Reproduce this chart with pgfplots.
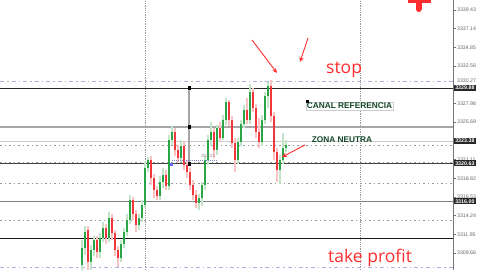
\documentclass[border=0pt]{standalone}
\usepackage{pgfplots}
\usepackage{pgfplotstable}
\pgfplotsset{compat=1.18}
\usepackage{fontspec}
\setmainfont{Liberation Sans}
\newfontfamily\opensans{Open Sans}
\usetikzlibrary{arrows.meta}

\definecolor{upG}{RGB}{40,165,70}
\definecolor{upPale}{RGB}{195,228,200}
\definecolor{dnR}{RGB}{240,55,60}
\definecolor{dnPale}{RGB}{250,195,195}
\definecolor{lvlBlue}{RGB}{175,175,230}
\definecolor{labelGreen}{RGB}{20,70,40}
\definecolor{annRed}{RGB}{255,45,45}

% bullish candles: time slot, open, high, low, close
\pgfplotstableread{
x o h l c
82 3308.19 3311.26 3307.58 3310.28
85 3310.28 3312.97 3309.42 3312.24
91 3308.56 3310.64 3307.58 3310.03
94 3310.03 3311.75 3309.30 3311.26
100 3309.79 3312.11 3309.05 3311.50
103 3311.50 3313.46 3311.01 3312.73
109 3311.50 3314.69 3311.01 3313.95
121 3309.05 3311.26 3308.56 3310.77
124 3310.77 3312.73 3310.28 3312.24
127 3312.24 3314.44 3311.75 3313.71
130 3313.71 3316.77 3313.22 3316.16
139 3313.09 3314.44 3312.48 3313.95
142 3313.95 3316.16 3313.46 3315.54
145 3315.54 3320.81 3315.18 3320.08
148 3320.08 3321.42 3319.59 3321.06
160 3316.65 3319.10 3316.16 3318.36
163 3318.36 3320.08 3317.63 3319.22
169 3317.87 3324.12 3317.38 3323.51
172 3323.51 3325.22 3322.89 3324.49
181 3321.30 3323.51 3320.81 3322.77
199 3315.79 3316.89 3314.93 3316.40
202 3316.40 3318.36 3315.42 3317.99
205 3317.99 3321.55 3317.38 3321.06
208 3321.06 3324.12 3320.44 3323.51
211 3323.51 3325.71 3322.77 3324.49
217 3322.28 3325.34 3321.67 3324.98
223 3323.75 3326.57 3323.51 3325.96
226 3325.96 3328.65 3325.34 3328.16
238 3321.06 3323.75 3320.57 3323.26
241 3323.26 3325.96 3322.77 3325.47
244 3325.47 3327.79 3324.98 3327.18
250 3325.96 3330.37 3325.47 3329.39
262 3323.26 3326.57 3322.77 3325.96
265 3325.96 3329.39 3325.47 3328.90
268 3328.90 3330.61 3327.43 3330.12
280 3319.83 3321.67 3318.12 3321.06
283 3321.06 3324.36 3320.57 3322.53
286 3322.53 3323.51 3322.04 3322.89
}\bull

% bearish candles: time slot, open, high, low, close
\pgfplotstableread{
x o h l c
88 3312.48 3312.97 3307.58 3308.56
97 3311.26 3311.75 3309.05 3309.79
106 3312.73 3313.22 3310.77 3311.50
112 3313.95 3314.44 3311.26 3312.11
115 3312.11 3312.48 3309.30 3310.03
118 3310.03 3310.52 3307.95 3309.05
133 3316.16 3316.52 3313.71 3314.44
136 3314.44 3314.93 3312.24 3313.09
151 3321.06 3321.55 3317.99 3318.85
154 3318.85 3319.34 3316.40 3317.38
157 3317.38 3317.87 3316.16 3316.65
166 3319.22 3319.83 3317.38 3317.87
175 3324.49 3324.98 3321.55 3322.28
178 3322.28 3322.89 3320.69 3321.30
184 3322.77 3323.26 3319.83 3320.44
187 3320.44 3321.06 3318.85 3319.59
190 3319.59 3320.08 3317.38 3317.99
193 3317.99 3318.61 3316.16 3316.77
196 3316.77 3317.38 3315.18 3315.79
214 3324.49 3324.98 3321.30 3322.28
220 3324.98 3325.71 3323.26 3323.75
229 3328.16 3328.41 3325.22 3325.96
232 3325.96 3326.45 3322.53 3323.14
235 3323.14 3323.75 3319.59 3321.06
247 3327.18 3328.65 3325.47 3325.96
253 3329.39 3329.88 3326.94 3327.43
256 3327.43 3327.92 3323.75 3324.49
259 3324.49 3326.20 3322.53 3323.26
271 3330.12 3330.86 3325.71 3326.45
274 3326.45 3326.94 3321.06 3322.04
277 3322.04 3322.53 3318.36 3319.83
}\bear

\begin{document}
\begin{tikzpicture}
\path[use as bounding box] (0,0) rectangle (480pt,270pt);
\begin{axis}[
  at={(0,0)}, anchor=south west,
  scale only axis, width=453pt, height=270pt,
  xmin=0, xmax=453, ymin=3307.58, ymax=3340.655,
  axis x line=none, axis y line*=right,
  y axis line style={draw=black!55, line width=0.6pt, -},
  xtick=\empty,
  ytick={3309.66,3311.95,3314.24,3316.53,3318.82,3321.11,3325.69,3327.98,3330.27,3332.56,3334.85,3337.14,3339.43},
  yticklabels={3309.66,3311.95,3314.24,3316.53,3318.82,3321.11,3325.69,3327.98,{},3332.56,3334.85,3337.14,3339.43},
  yticklabel pos=right,
  tick align=outside, major tick length=3pt,
  ytick style={draw=black!55, line width=0.5pt},
  yticklabel style={font=\fontsize{5.2}{6}\selectfont, text=black!60, inner sep=1pt},
  clip mode=individual,
]
% time separators
\addplot[black!40, line width=0.6pt, dash pattern=on 0.8pt off 1pt] coordinates {(145,3307.58)(145,3340.655)};
\addplot[black!40, line width=0.6pt, dash pattern=on 0.8pt off 1pt] coordinates {(360,3307.58)(360,3340.655)};

% price levels
\addplot[lvlBlue, line width=0.8pt, dash pattern=on 4pt off 3pt on 1.5pt off 3pt] coordinates {(0,3330.73)(453,3330.73)};
\addplot[lvlBlue, line width=0.8pt, dash pattern=on 4pt off 3pt on 1.5pt off 3pt] coordinates {(0,3307.95)(453,3307.95)};
\addplot[black!40, line width=0.6pt, dash pattern=on 2pt off 3pt on 1pt off 3pt] coordinates {(0,3322.89)(453,3322.89)};
\addplot[black!40, line width=0.6pt, dash pattern=on 2pt off 3pt on 1pt off 3pt] coordinates {(0,3320.81)(453,3320.81)};
\addplot[black!40, line width=0.6pt, dash pattern=on 2pt off 3pt on 1pt off 3pt] coordinates {(0,3318.24)(453,3318.24)};
\addplot[black!40, line width=0.6pt, dash pattern=on 2pt off 3pt on 1pt off 3pt] coordinates {(0,3313.70)(453,3313.70)};
\addplot[black!85, line width=0.9pt] coordinates {(0,3329.88)(453,3329.88)};
\addplot[black!35, line width=1.4pt] coordinates {(0,3325.10)(453,3325.10)};
\addplot[black!20, line width=1pt] coordinates {(0,3323.38)(453,3323.38)};
\addplot[black!75, line width=0.9pt] coordinates {(0,3320.63)(453,3320.63)};
\addplot[black!50, line width=1.3pt] coordinates {(0,3316.00)(453,3316.00)};
\addplot[black!90, line width=0.9pt] coordinates {(0,3311.50)(453,3311.50)};

% candle ranges (high to low)
\addplot[draw=none, mark=none, error bars/.cd, y dir=plus, y explicit, error mark=none,
  error bar style={draw=upPale, line width=2.8pt}]
  table[x=x, y=l, y error plus expr=\thisrow{h}-\thisrow{l}] {\bull};
\addplot[draw=none, mark=none, error bars/.cd, y dir=plus, y explicit, error mark=none,
  error bar style={draw=dnPale, line width=2.8pt}]
  table[x=x, y=l, y error plus expr=\thisrow{h}-\thisrow{l}] {\bear};
% candle bodies (open to close)
\addplot[draw=none, mark=none, error bars/.cd, y dir=plus, y explicit, error mark=none,
  error bar style={draw=upG, line width=1.5pt}]
  table[x=x, y=o, y error plus expr=\thisrow{c}-\thisrow{o}] {\bull};
\addplot[draw=none, mark=none, error bars/.cd, y dir=plus, y explicit, error mark=none,
  error bar style={draw=dnR, line width=1.5pt}]
  table[x=x, y=c, y error plus expr=\thisrow{o}-\thisrow{c}] {\bear};

% measuring tool
\addplot[black!35, line width=1.2pt] coordinates {(189,3329.88)(189,3320.63)};
\addplot[only marks, mark=square*, mark size=1.3pt, black] coordinates {(189,3329.88)(189,3325.10)(189,3320.63)};
\addplot[blue!40!gray!70, line width=0.6pt, dash pattern=on 1pt off 1pt] coordinates {(172,3321.06)(217,3321.06)};
\addplot[only marks, mark=square*, mark size=1.2pt, blue!60] coordinates {(171,3320.57)};
\node[font=\fontsize{4.5}{5}\selectfont, text=black!45, anchor=base east, inner sep=0] at (axis cs:215,3321.35) {303.21};

% labels
\node[draw=black!20, fill=white, font=\bfseries\fontsize{8.3}{9}\selectfont, text=labelGreen, inner xsep=0.8pt, inner ysep=1.2pt] at (axis cs:349.5,3327.67) {CANAL REFERENCIA};
\addplot[only marks, mark=square*, mark size=1pt, black] coordinates {(307,3328.28)};
\node[font=\bfseries\fontsize{8.3}{9}\selectfont, text=labelGreen, inner sep=0] at (axis cs:342,3323.57) {ZONA NEUTRA};
\node[anchor=base west, text=annRed, font=\opensans\fontsize{17.5}{20}\selectfont, inner sep=0] at (axis cs:326,3331.71) {stop};
\node[anchor=base west, text=annRed, font=\opensans\fontsize{17.5}{20}\selectfont, inner sep=0] at (axis cs:328,3308.44) {take profit};

% arrows
\draw[annRed, line width=0.9pt, -{Stealth[length=5pt,width=4.5pt]}] (axis cs:252,3335.76) -- (axis cs:277,3331.71);
\draw[annRed, line width=0.9pt, -{Stealth[length=5pt,width=4.5pt]}] (axis cs:308,3336.00) -- (axis cs:300,3333.06);
\draw[annRed, line width=0.9pt, -{Stealth[length=5pt,width=4.5pt]}] (axis cs:305,3322.89) -- (axis cs:282,3321.42);

% cross sign at the top edge
\draw[annRed, line width=3.5pt] (axis cs:408,3340.45) -- (axis cs:431,3340.45);
\draw[annRed, line width=6pt, line cap=round] (axis cs:418.5,3340.9) -- (axis cs:418.5,3339.55);

\coordinate (p0) at (axis cs:453,3330.27);
\coordinate (p1) at (axis cs:453,3329.88);
\coordinate (p2) at (axis cs:453,3323.38);
\coordinate (p3) at (axis cs:453,3320.63);
\coordinate (p4) at (axis cs:453,3316.00);
\end{axis}
% scale value sitting just above the first price tag
\node[font=\fontsize{5.2}{6}\selectfont, text=black!60, inner sep=1pt, anchor=south west] at ([xshift=3pt, yshift=0.8pt]p0) {3330.27};
% price tags on the scale
\foreach \p/\t in {p1/3329.88, p2/3323.38, p3/3320.63, p4/3316.00}
  \node[fill=black!85, text=white, font=\bfseries\fontsize{5.3}{6}\selectfont, anchor=west, inner xsep=1.3pt, inner ysep=1.1pt] at ([xshift=0.8pt]\p) {\t};
\end{tikzpicture}
\end{document}
